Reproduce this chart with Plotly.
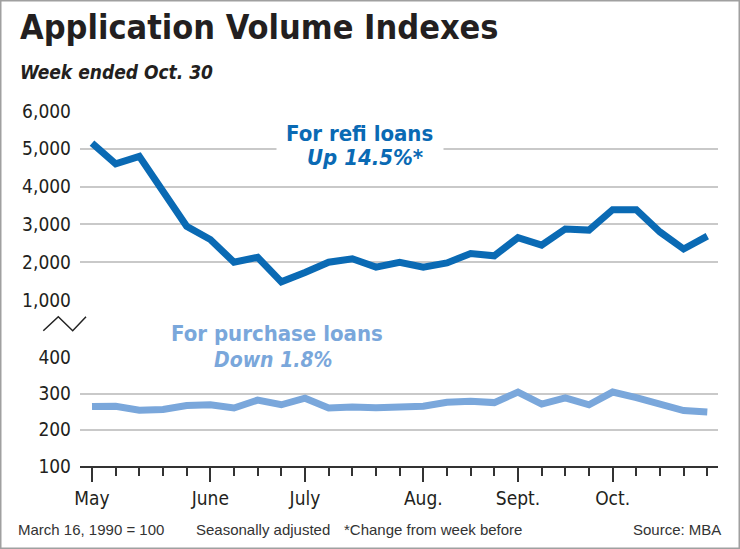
import plotly.graph_objects as go

weeks = list(range(27))
refi = [5150, 4600, 4800, 3900, 2950, 2600, 2000, 2130, 1480, 1730, 2000, 2090,
        1870, 2000, 1870, 1980, 2230, 2170, 2650, 2450, 2880, 2850, 3390, 3390,
        2800, 2350, 2690]
purchase = [264, 265, 254, 256, 267, 269, 260, 282, 269, 287, 260, 263,
            261, 263, 265, 276, 279, 275, 304, 271, 288, 269, 304, 289,
            269, 253, 249]
month_pos = [0, 5, 9, 14, 18, 22]
month_labels = ["May", "June", "July", "Aug.", "Sept.", "Oct."]
upper_ticks = [1000, 2000, 3000, 4000, 5000, 6000]
lower_ticks = [100, 200, 300, 400]

W, H = 740, 549
L, R, T, B = 80, 718, 111, 466


def xp(X):
    return (X - L) / (R - L)


def yp(Y):
    return (B - Y) / (B - T)


REFI_C = "#0a6ab4"
PURCH_C = "#7aa7db"
GRID_C = "#c9c9c9"
TXT_C = "#231f20"
COND = "DejaVu Sans Condensed"

fig = go.Figure()
fig.add_trace(go.Scatter(x=weeks, y=refi, mode="lines", xaxis="x", yaxis="y",
                         line=dict(color=REFI_C, width=7), hoverinfo="skip",
                         showlegend=False))
fig.add_trace(go.Scatter(x=weeks, y=purchase, mode="lines", xaxis="x2", yaxis="y2",
                         line=dict(color=PURCH_C, width=7), hoverinfo="skip",
                         showlegend=False))

xr = [-12 / 23.665, 26 + (R - 707.3) / 23.665]
TICKF = dict(family=COND, size=19, color=TXT_C)

fig.update_layout(
    width=W, height=H,
    margin=dict(l=L, r=W - R, t=T, b=H - B, pad=0),
    paper_bgcolor="white", plot_bgcolor="white",
    xaxis=dict(domain=[0, 1], range=xr, anchor="y", showgrid=False,
               showticklabels=False, zeroline=False, showline=False, ticks=""),
    yaxis=dict(domain=[yp(300), 1], range=[1000, 6000], tickvals=upper_ticks,
               tickformat=",", showgrid=True, gridcolor=GRID_C, gridwidth=1.5,
               zeroline=False, showline=False, ticks="", ticklabelstandoff=8,
               tickfont=TICKF),
    xaxis2=dict(domain=[0, 1], range=xr, anchor="y2", matches="x",
                showgrid=False, zeroline=False, showline=True, linecolor="#333",
                linewidth=2, ticks="outside", tickvals=month_pos,
                ticktext=month_labels, ticklen=14, tickwidth=1.5, tickcolor="#333",
                tickfont=TICKF,
                minor=dict(ticks="outside", dtick=1, tick0=0, ticklen=8,
                           tickwidth=1.5, tickcolor="#333", showgrid=False)),
    yaxis2=dict(domain=[0, yp(357.3)], range=[100, 400], tickvals=lower_ticks,
                showgrid=True, gridcolor=GRID_C, gridwidth=1.5, zeroline=False,
                showline=False, ticks="", ticklabelstandoff=8,
                tickfont=TICKF),
)

ann = []
# white boxes interrupting gridlines behind labels
ann.append(dict(x=xp(360), y=yp(149.6), xref="paper", yref="paper", text=" ",
                showarrow=False, bgcolor="white", width=166, height=8,
                xanchor="center", yanchor="middle", borderpad=0))
ann.append(dict(x=xp(271.5), y=yp(357.3), xref="paper", yref="paper", text=" ",
                showarrow=False, bgcolor="white", width=133, height=8,
                xanchor="center", yanchor="middle", borderpad=0))
# title
ann.append(dict(x=xp(18), y=yp(27), xref="paper", yref="paper",
                text="<b>Application Volume Indexes</b>", showarrow=False,
                xanchor="left", yanchor="middle",
                font=dict(family=COND, size=34, color=TXT_C)))
ann.append(dict(x=xp(18), y=yp(72.5), xref="paper", yref="paper",
                text="<b><i>Week ended Oct. 30</i></b>", showarrow=False,
                xanchor="left", yanchor="middle",
                font=dict(family=COND, size=19, color=TXT_C)))
# series labels
ann.append(dict(x=xp(359), y=yp(133), xref="paper", yref="paper",
                text="<b>For refi loans</b>", showarrow=False,
                xanchor="center", yanchor="middle",
                font=dict(family=COND, size=22, color=REFI_C)))
ann.append(dict(x=xp(425), y=yp(157), xref="paper", yref="paper",
                text="<b><i>Up 14.5%*</i></b>", showarrow=False,
                xanchor="right", yanchor="middle",
                font=dict(family=COND, size=22, color=REFI_C)))
ann.append(dict(x=xp(276.5), y=yp(333), xref="paper", yref="paper",
                text="<b>For purchase loans</b>", showarrow=False,
                xanchor="center", yanchor="middle",
                font=dict(family=COND, size=22, color=PURCH_C)))
ann.append(dict(x=xp(273), y=yp(360), xref="paper", yref="paper",
                text="<b><i>Down 1.8%</i></b>", showarrow=False,
                xanchor="center", yanchor="middle",
                font=dict(family=COND, size=21, color=PURCH_C)))
# footnotes
foot = [("March 16, 1990 = 100", 16), ("Seasonally adjusted", 194.3),
        ("*Change from week before", 341.7)]
for t, X in foot:
    ann.append(dict(x=xp(X), y=yp(529.5), xref="paper", yref="paper", text=t,
                    showarrow=False, xanchor="left", yanchor="middle",
                    font=dict(family="Liberation Sans", size=15, color="#333")))
ann.append(dict(x=xp(723), y=yp(529.5), xref="paper", yref="paper",
                text="Source: MBA", showarrow=False, xanchor="right",
                yanchor="middle",
                font=dict(family="Liberation Sans", size=15, color="#333")))
fig.update_layout(annotations=ann)

# frame and axis-break zigzag
zig = [(43.3, 330.7), (58.3, 316.7), (72.7, 330.7), (86, 316.7)]
path = "M " + " L ".join(f"{xp(a):.5f},{yp(b):.5f}" for a, b in zig)
fig.add_shape(type="path", path=path, xref="paper", yref="paper",
              line=dict(color="#222", width=1.5))
fig.add_shape(type="rect", xref="paper", yref="paper",
              x0=xp(0.75), x1=xp(739.25), y0=yp(548.25), y1=yp(0.75),
              line=dict(color="#a0a0a0", width=1.5), fillcolor="rgba(0,0,0,0)")

fig.write_html("out.html")
